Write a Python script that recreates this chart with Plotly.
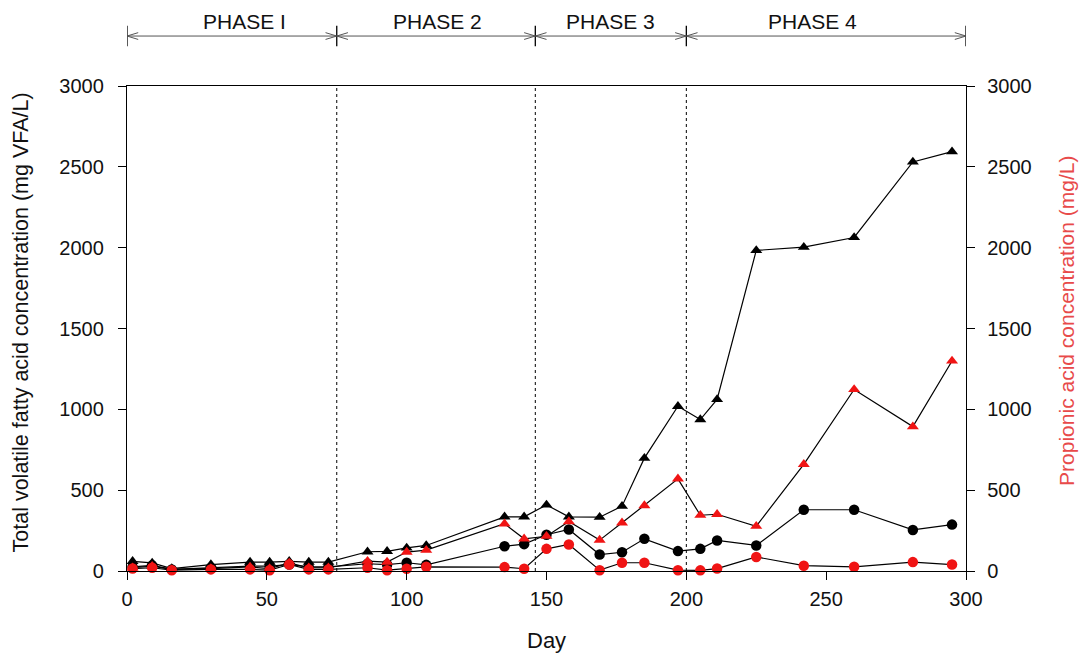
import plotly.graph_objects as go

# Sampling days
days = [2, 9, 16, 30, 44, 51, 58, 65, 72,
        86, 93, 100, 107, 135, 142, 150, 158,
        169, 177, 185, 197, 205, 211, 225, 242, 260, 281, 295]

# Total VFA (left axis), two series
tvfa_tri = [60, 50, 15, 40, 55, 55, 60, 55, 55,
            119, 122, 143, 158, 335, 335, 409, 335,
            333, 401, 698, 1019, 937, 1061, 1983, 2003, 2063, 2530, 2594]
tvfa_circ = [25, 35, 10, 20, 30, 30, 40, 25, 25,
             45, 40, 51, 38, 153, 166, 224, 257,
             102, 116, 199, 123, 137, 189, 158, 379, 379, 254, 287]

# Propionic acid (right axis), two series
prop_tri = [20, 30, 10, 15, 25, 15, 50, 20, 20,
            61, 55, 117, 129, 292, 199, 215, 306,
            191, 298, 405, 570, 345, 351, 277, 660, 1123, 893, 1299]
prop_circ = [15, 20, 5, 10, 10, 5, 40, 10, 10,
             20, 5, 14, 26, 24, 14, 137, 164,
             5, 51, 51, 5, 4, 15, 87, 33, 26, 55, 40]

phase_bounds = [0, 75, 146, 200, 300]
phase_names = ["PHASE I", "PHASE 2", "PHASE 3", "PHASE 4"]
phase_label_x = [42, 111, 173, 245]

x_ticks = [0, 50, 100, 150, 200, 250, 300]
y_ticks = [0, 500, 1000, 1500, 2000, 2500, 3000]

RED = "#f01414"
TITLE_RED = "#e84a4a"
FONT = "Liberation Sans, Arial, sans-serif"

fig = go.Figure()

def add_series(y, symbol, color, axis):
    fig.add_trace(go.Scatter(
        x=days, y=y, mode="lines+markers", yaxis=axis,
        line=dict(color="black", width=1.2),
        marker=dict(symbol=symbol, size=10.5, color=color,
                    line=dict(width=0)),
        cliponaxis=False, showlegend=False))

add_series(tvfa_tri, "triangle-up", "black", "y")
add_series(tvfa_circ, "circle", "black", "y")
add_series(prop_tri, "triangle-up", RED, "y2")
add_series(prop_circ, "circle", RED, "y2")

shapes = []
# dotted phase separators inside the plot
for b in phase_bounds[1:-1]:
    shapes.append(dict(type="line", xref="x", yref="y", x0=b, x1=b, y0=0, y1=3000,
                       line=dict(color="black", width=1, dash="dot")))

# phase bar above the plot
bar_y = 1.103
shapes.append(dict(type="line", xref="x", yref="paper", x0=0, x1=300,
                   y0=bar_y, y1=bar_y, line=dict(color="#555", width=1)))
for b in phase_bounds:
    shapes.append(dict(type="line", xref="x", yref="paper", x0=b, x1=b,
                       y0=bar_y - 0.021, y1=bar_y + 0.021,
                       line=dict(color="black", width=1.3)))
ah_dx, ah_dy = 4.0, 0.007
for i in range(len(phase_bounds) - 1):
    a, b = phase_bounds[i], phase_bounds[i + 1]
    # left-pointing chevron at start, right-pointing at end
    shapes.append(dict(type="path", xref="x", yref="paper",
                       path=f"M {a + ah_dx},{bar_y + ah_dy} L {a},{bar_y} L {a + ah_dx},{bar_y - ah_dy}",
                       line=dict(color="#555", width=1)))
    shapes.append(dict(type="path", xref="x", yref="paper",
                       path=f"M {b - ah_dx},{bar_y + ah_dy} L {b},{bar_y} L {b - ah_dx},{bar_y - ah_dy}",
                       line=dict(color="#555", width=1)))

annotations = []
for name, lx in zip(phase_names, phase_label_x):
    annotations.append(dict(x=lx, y=bar_y, xref="x", yref="paper", text=name,
                            showarrow=False, yanchor="bottom", yshift=1,
                            font=dict(family=FONT, size=21, color="#111")))

annotations.append(dict(x=-0.126, y=0.513, xref="paper", yref="paper",
                        text="Total volatile fatty acid concentration (mg VFA/L)",
                        textangle=-90, showarrow=False,
                        xanchor="center", yanchor="middle",
                        font=dict(family=FONT, size=21.5, color="#111")))
annotations.append(dict(x=1.12, y=0.515, xref="paper", yref="paper",
                        text="Propionic acid concentration (mg/L)",
                        textangle=-90, showarrow=False,
                        xanchor="center", yanchor="middle",
                        font=dict(family=FONT, size=21, color=TITLE_RED)))
annotations.append(dict(x=0.5, y=-0.143, xref="paper", yref="paper", text="Day",
                        showarrow=False, yanchor="middle",
                        font=dict(family=FONT, size=22, color="#111")))

axis_common = dict(showgrid=False, zeroline=False, showline=True, linecolor="black",
                   linewidth=1.3, ticks="outside", ticklen=8, tickcolor="black",
                   tickfont=dict(family=FONT, size=20, color="#111"))

fig.update_layout(
    width=1091, height=653,
    margin=dict(l=127, r=125, t=86, b=82),
    plot_bgcolor="white", paper_bgcolor="white",
    xaxis=dict(range=[0, 300], tickvals=x_ticks, mirror=True,
               ticklabelstandoff=2, **axis_common),
    yaxis=dict(range=[0, 3000], tickvals=y_ticks, ticklabelstandoff=10,
               **axis_common),
    yaxis2=dict(range=[0, 3000], tickvals=y_ticks, overlaying="y", side="right",
                ticklabelstandoff=8, **axis_common),
    shapes=shapes, annotations=annotations,
)

fig.write_html("out.html")
